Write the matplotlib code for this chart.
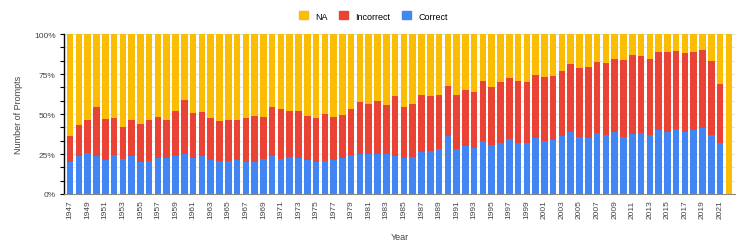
import matplotlib.pyplot as plt
import numpy as np
from matplotlib.patches import Patch

years = list(range(1947, 2023))
correct = [20.2, 24.0, 25.6, 24.0, 21.5, 24.4, 21.9, 24.0, 20.2, 20.6,
           22.3, 22.7, 24.0, 25.2, 22.3, 23.5, 21.0, 20.6, 20.6, 21.5,
           20.2, 20.2, 21.9, 24.0, 21.9, 23.3, 22.7, 21.5, 20.2, 20.6,
           21.0, 22.3, 24.4, 25.2, 24.8, 24.8, 25.2, 24.0, 22.7, 23.3,
           26.3, 26.9, 27.9, 36.3, 28.1, 30.0, 28.8, 33.1, 30.6, 31.9,
           34.2, 31.9, 31.9, 35.0, 33.1, 33.8, 36.3, 38.9, 35.4, 35.0,
           38.3, 37.1, 38.9, 35.6, 37.7, 38.3, 37.1, 40.2, 38.9, 40.6,
           38.9, 40.2, 41.0, 37.1, 31.9, 0.0]
# top of the red segment (correct + incorrect)
answered = [36.3, 43.1, 46.3, 54.4, 46.9, 47.5, 42.1, 46.5, 43.5, 46.3,
            48.1, 46.3, 51.7, 58.5, 50.4, 51.3, 47.7, 45.4, 46.5, 46.5,
            47.3, 48.8, 48.1, 54.6, 53.3, 51.9, 52.1, 48.8, 47.7, 50.0,
            48.1, 49.2, 52.9, 57.5, 56.0, 58.1, 55.6, 61.0, 54.4, 56.3,
            61.9, 61.5, 61.9, 67.5, 61.9, 65.2, 64.0, 70.6, 67.1, 70.0,
            72.5, 70.4, 70.0, 74.6, 73.3, 73.8, 76.7, 81.5, 78.9, 79.4,
            82.7, 82.1, 84.2, 83.8, 86.9, 86.5, 84.2, 88.5, 88.5, 89.2,
            88.1, 88.8, 90.0, 83.1, 69.0, 0.0]

correct = np.array(correct)
incorrect = np.array(answered) - correct
na = 100 - np.array(answered)

c_na = '#FBBC04'
c_inc = '#EA4335'
c_cor = '#4285F4'

plt.rcParams['font.family'] = ['Liberation Sans', 'DejaVu Sans']

fig = plt.figure(figsize=(7.47, 2.53), dpi=100)
ax = fig.add_axes([64 / 747, 1 - 195 / 253, (735 - 64) / 747, 160 / 253])

w = 0.75
ax.bar(years, correct, width=w, color=c_cor, zorder=3)
ax.bar(years, incorrect, width=w, bottom=correct, color=c_inc, zorder=3)
ax.bar(years, na, width=w, bottom=correct + incorrect, color=c_na, zorder=3)

ax.set_ylim(0, 100)
ax.set_xlim(1946.3, 2022.7)
ax.set_yticks([0, 25, 50, 75, 100])
ax.set_yticklabels(['0%', '25%', '50%', '75%', '100%'], fontsize=6, color='#444444')
ax.set_yticks(np.arange(0, 100, 100 / 12), minor=True)
ax.tick_params(axis='y', which='both', length=3, width=0.8, color='black', pad=3)
ax.grid(axis='y', which='both', color='#e4e4e4', linewidth=0.8, zorder=0)

ax.set_xticks(years[::2])
ax.set_xticklabels([str(y) for y in years[::2]], rotation=90, fontsize=6, color='#444444')
ax.tick_params(axis='x', length=0, pad=4)

for s in ['top', 'right']:
    ax.spines[s].set_visible(False)
ax.spines['left'].set_color('black')
ax.spines['left'].set_linewidth(1)
ax.spines['bottom'].set_color('#888888')
ax.spines['bottom'].set_linewidth(0.8)

ax.set_ylabel('Number of Prompts', fontsize=6.5, color='#444444', labelpad=8)
ax.set_xlabel('Year', fontsize=6.5, color='#444444', labelpad=10)

handles = [Patch(color=c_na, label='NA'),
           Patch(color=c_inc, label='Incorrect'),
           Patch(color=c_cor, label='Correct')]
fig.legend(handles=handles, loc='center', bbox_to_anchor=(0.5, 0.933), ncol=3,
           frameon=False, fontsize=6.5, handlelength=1.0, handleheight=1.0,
           columnspacing=1.3, handletextpad=0.8)

fig.savefig('out.png', dpi=100)
